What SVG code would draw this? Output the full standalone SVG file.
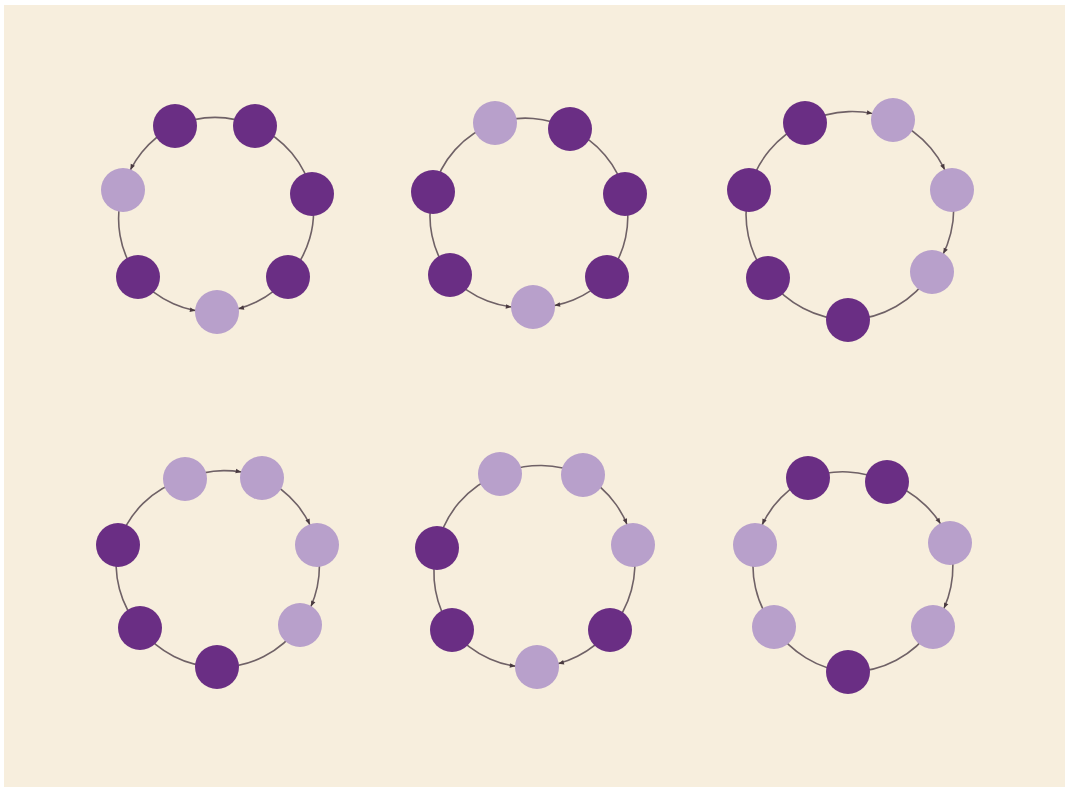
<svg xmlns="http://www.w3.org/2000/svg" width="1065" height="787" viewBox="0 0 1065 787">
<defs>
<style>
.link{fill:none;stroke:#6f6166;stroke-width:1.6}
.dark{fill:#6b2f84}
.light{fill:#b8a0cb}
.node{filter:url(#soft)}
</style>
<filter id="soft" x="-20%" y="-20%" width="140%" height="140%"><feGaussianBlur stdDeviation="0.7"/></filter>
<marker id="acw" markerUnits="userSpaceOnUse" orient="auto" refX="0" refY="0" markerWidth="10" markerHeight="10" overflow="visible">
<path d="M-21.5,2.3 L-26.4,5.7 L-27.4,1.2 Z" fill="#4a3a40"/>
</marker>
<marker id="accw" markerUnits="userSpaceOnUse" orient="auto" refX="0" refY="0" markerWidth="10" markerHeight="10" overflow="visible">
<path d="M-21.5,-2.3 L-26.4,-5.7 L-27.4,-1.2 Z" fill="#4a3a40"/>
</marker>
</defs>
<rect x="0" y="0" width="1065" height="787" fill="#ffffff"/>
<rect x="4" y="5" width="1061" height="782" fill="#f7eedd"/>
<g id="connectors">
<!-- ring 1 -->
<path class="link" d="M175,126 A97,97 0 0 1 255,126"/>
<path class="link" d="M255,126 A97,97 0 0 1 312,194"/>
<path class="link" d="M312,194 A97,97 0 0 1 288,277"/>
<path class="link" d="M288,277 A97,97 0 0 1 217,312" marker-end="url(#acw)"/>
<path class="link" d="M138,277 A97,97 0 0 0 217,312" marker-end="url(#accw)"/>
<path class="link" d="M138,277 A97,97 0 0 1 123,190"/>
<path class="link" d="M175,126 A97,97 0 0 0 123,190" marker-end="url(#accw)"/>
<!-- ring 2 -->
<path class="link" d="M495,123 A97,97 0 0 1 570,129"/>
<path class="link" d="M570,129 A97,97 0 0 1 625,194"/>
<path class="link" d="M625,194 A97,97 0 0 1 607,277"/>
<path class="link" d="M607,277 A97,97 0 0 1 533,307" marker-end="url(#acw)"/>
<path class="link" d="M450,275 A97,97 0 0 0 533,307" marker-end="url(#accw)"/>
<path class="link" d="M450,275 A97,97 0 0 1 433,192"/>
<path class="link" d="M433,192 A97,97 0 0 1 495,123"/>
<!-- ring 3 -->
<path class="link" d="M805,123 A103,103 0 0 1 893,120" marker-end="url(#acw)"/>
<path class="link" d="M893,120 A103,103 0 0 1 952,190" marker-end="url(#acw)"/>
<path class="link" d="M952,190 A103,103 0 0 1 932,272" marker-end="url(#acw)"/>
<path class="link" d="M932,272 A103,103 0 0 1 848,320"/>
<path class="link" d="M848,320 A103,103 0 0 1 768,278"/>
<path class="link" d="M768,278 A103,103 0 0 1 749,190"/>
<path class="link" d="M749,190 A103,103 0 0 1 805,123"/>
<!-- ring 4 -->
<path class="link" d="M185,479 A98,98 0 0 1 262,478" marker-end="url(#acw)"/>
<path class="link" d="M262,478 A98,98 0 0 1 317,545" marker-end="url(#acw)"/>
<path class="link" d="M317,545 A98,98 0 0 1 300,625" marker-end="url(#acw)"/>
<path class="link" d="M300,625 A98,98 0 0 1 217,667"/>
<path class="link" d="M217,667 A98,98 0 0 1 140,628"/>
<path class="link" d="M140,628 A98,98 0 0 1 118,545"/>
<path class="link" d="M118,545 A98,98 0 0 1 185,479"/>
<!-- ring 5 -->
<path class="link" d="M500,474 A100,100 0 0 1 583,475"/>
<path class="link" d="M583,475 A100,100 0 0 1 633,545" marker-end="url(#acw)"/>
<path class="link" d="M633,545 A100,100 0 0 1 610,630"/>
<path class="link" d="M610,630 A100,100 0 0 1 537,667" marker-end="url(#acw)"/>
<path class="link" d="M452,630 A100,100 0 0 0 537,667" marker-end="url(#accw)"/>
<path class="link" d="M452,630 A100,100 0 0 1 437,548"/>
<path class="link" d="M437,548 A100,100 0 0 1 500,474"/>
<!-- ring 6 -->
<path class="link" d="M808,478 A101,101 0 0 1 887,482"/>
<path class="link" d="M887,482 A101,101 0 0 1 950,543" marker-end="url(#acw)"/>
<path class="link" d="M950,543 A101,101 0 0 1 933,627" marker-end="url(#acw)"/>
<path class="link" d="M933,627 A101,101 0 0 1 848,672"/>
<path class="link" d="M848,672 A101,101 0 0 1 774,627"/>
<path class="link" d="M774,627 A101,101 0 0 1 755,545"/>
<path class="link" d="M808,478 A101,101 0 0 0 755,545" marker-end="url(#accw)"/>
</g>
<g id="ring1">
<circle id="r1n1" class="node dark" cx="175" cy="126" r="22"/>
<circle id="r1n2" class="node dark" cx="255" cy="126" r="22"/>
<circle id="r1n3" class="node dark" cx="312" cy="194" r="22"/>
<circle id="r1n4" class="node dark" cx="288" cy="277" r="22"/>
<circle id="r1n5" class="node light" cx="217" cy="312" r="22"/>
<circle id="r1n6" class="node dark" cx="138" cy="277" r="22"/>
<circle id="r1n7" class="node light" cx="123" cy="190" r="22"/>
</g>
<g id="ring2">
<circle id="r2n1" class="node light" cx="495" cy="123" r="22"/>
<circle id="r2n2" class="node dark" cx="570" cy="129" r="22"/>
<circle id="r2n3" class="node dark" cx="625" cy="194" r="22"/>
<circle id="r2n4" class="node dark" cx="607" cy="277" r="22"/>
<circle id="r2n5" class="node light" cx="533" cy="307" r="22"/>
<circle id="r2n6" class="node dark" cx="450" cy="275" r="22"/>
<circle id="r2n7" class="node dark" cx="433" cy="192" r="22"/>
</g>
<g id="ring3">
<circle id="r3n1" class="node dark" cx="805" cy="123" r="22"/>
<circle id="r3n2" class="node light" cx="893" cy="120" r="22"/>
<circle id="r3n3" class="node light" cx="952" cy="190" r="22"/>
<circle id="r3n4" class="node light" cx="932" cy="272" r="22"/>
<circle id="r3n5" class="node dark" cx="848" cy="320" r="22"/>
<circle id="r3n6" class="node dark" cx="768" cy="278" r="22"/>
<circle id="r3n7" class="node dark" cx="749" cy="190" r="22"/>
</g>
<g id="ring4">
<circle id="r4n1" class="node light" cx="185" cy="479" r="22"/>
<circle id="r4n2" class="node light" cx="262" cy="478" r="22"/>
<circle id="r4n3" class="node light" cx="317" cy="545" r="22"/>
<circle id="r4n4" class="node light" cx="300" cy="625" r="22"/>
<circle id="r4n5" class="node dark" cx="217" cy="667" r="22"/>
<circle id="r4n6" class="node dark" cx="140" cy="628" r="22"/>
<circle id="r4n7" class="node dark" cx="118" cy="545" r="22"/>
</g>
<g id="ring5">
<circle id="r5n1" class="node light" cx="500" cy="474" r="22"/>
<circle id="r5n2" class="node light" cx="583" cy="475" r="22"/>
<circle id="r5n3" class="node light" cx="633" cy="545" r="22"/>
<circle id="r5n4" class="node dark" cx="610" cy="630" r="22"/>
<circle id="r5n5" class="node light" cx="537" cy="667" r="22"/>
<circle id="r5n6" class="node dark" cx="452" cy="630" r="22"/>
<circle id="r5n7" class="node dark" cx="437" cy="548" r="22"/>
</g>
<g id="ring6">
<circle id="r6n1" class="node dark" cx="808" cy="478" r="22"/>
<circle id="r6n2" class="node dark" cx="887" cy="482" r="22"/>
<circle id="r6n3" class="node light" cx="950" cy="543" r="22"/>
<circle id="r6n4" class="node light" cx="933" cy="627" r="22"/>
<circle id="r6n5" class="node dark" cx="848" cy="672" r="22"/>
<circle id="r6n6" class="node light" cx="774" cy="627" r="22"/>
<circle id="r6n7" class="node light" cx="755" cy="545" r="22"/>
</g>
</svg>
